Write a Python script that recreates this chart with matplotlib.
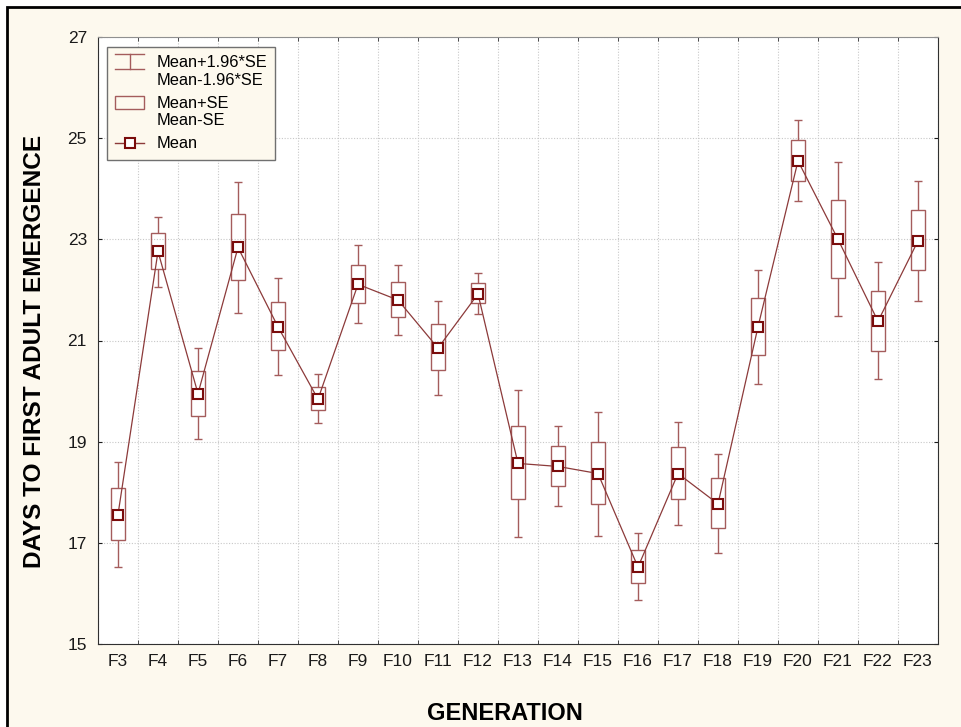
import numpy as np
import matplotlib.pyplot as plt
from matplotlib.patches import Rectangle
from matplotlib.lines import Line2D
from matplotlib.legend_handler import HandlerBase

plt.rcParams['font.family'] = ['Liberation Sans', 'DejaVu Sans']

# dados
geracoes = ['F3', 'F4', 'F5', 'F6', 'F7', 'F8', 'F9', 'F10', 'F11', 'F12', 'F13',
            'F14', 'F15', 'F16', 'F17', 'F18', 'F19', 'F20', 'F21', 'F22', 'F23']
media = [17.56, 22.76, 19.95, 22.84, 21.27, 19.84, 22.11, 21.80, 20.85, 21.92, 18.57,
         18.51, 18.37, 16.52, 18.37, 17.77, 21.27, 24.55, 23.00, 21.38, 22.97]
se_sup = [18.09, 23.12, 20.39, 23.50, 21.76, 20.09, 22.49, 22.15, 21.33, 22.13, 19.31,
          18.92, 19.00, 16.86, 18.89, 18.28, 21.85, 24.97, 23.77, 21.98, 23.58]
se_inf = [17.06, 22.41, 19.51, 22.20, 20.81, 19.62, 21.74, 21.47, 20.41, 21.74, 17.86,
          18.13, 17.77, 16.21, 17.86, 17.29, 20.72, 24.16, 22.24, 20.80, 22.40]
ic_sup = [18.60, 23.45, 20.85, 24.14, 22.23, 20.34, 22.88, 22.49, 21.78, 22.34, 20.03,
          19.30, 19.58, 17.19, 19.39, 18.75, 22.40, 25.36, 24.52, 22.55, 24.16]
ic_inf = [16.53, 22.05, 19.05, 21.55, 20.32, 19.36, 21.34, 21.11, 19.92, 21.53, 17.12,
          17.73, 17.14, 15.87, 17.35, 16.79, 20.14, 23.75, 21.49, 20.23, 21.79]
yticks = [15, 17, 19, 21, 23, 25, 27]

cor_linha = '#8c3a3a'
cor_caixa = '#a45c5c'
cor_marca = '#7a0c0c'
fundo = '#fdf9ee'


class HandlerBigode(HandlerBase):
    # simbolo do intervalo 1.96*SE, alinhado com a primeira linha do texto
    def create_artists(self, legend, orig, xd, yd, w, h, fontsize, trans):
        yc = h / 2 - yd + 0.6 * fontsize
        meia = 0.45 * fontsize
        a = Line2D([-xd, -xd + w], [yc + meia, yc + meia], color=cor_caixa, lw=1, transform=trans)
        b = Line2D([-xd, -xd + w], [yc - meia, yc - meia], color=cor_caixa, lw=1, transform=trans)
        c = Line2D([-xd + w / 2, -xd + w / 2], [yc - meia, yc + meia], color=cor_caixa, lw=1, transform=trans)
        return [a, b, c]


class HandlerCaixa(HandlerBase):
    def create_artists(self, legend, orig, xd, yd, w, h, fontsize, trans):
        yc = h / 2 - yd + 0.6 * fontsize
        meia = 0.4 * fontsize
        r = Rectangle((-xd, yc - meia), w, 2 * meia, fill=False, edgecolor=cor_caixa, lw=1, transform=trans)
        return [r]


class HandlerMedia(HandlerBase):
    def create_artists(self, legend, orig, xd, yd, w, h, fontsize, trans):
        yc = h / 2 - yd
        l = Line2D([-xd, -xd + w], [yc, yc], color=cor_linha, lw=1, transform=trans)
        m = Line2D([-xd + w / 2], [yc], marker='s', ms=6.5, mfc='white', mec=cor_marca,
                   mew=1.5, color=cor_linha, transform=trans)
        return [l, m]


fig = plt.figure(figsize=(9.62, 7.27), dpi=100)
fig.patch.set_facecolor('white')
fig.patches.append(Rectangle((7 / 962, -0.05), 1.2, 1.05 - 7 / 727, transform=fig.transFigure,
                             facecolor=fundo, edgecolor='black', lw=2, zorder=-10))

ax = fig.add_axes([98 / 962, 83 / 727, 840 / 962, 607 / 727])
x = np.arange(len(geracoes))
media = np.array(media)
se_sup = np.array(se_sup); se_inf = np.array(se_inf)
ic_sup = np.array(ic_sup); ic_inf = np.array(ic_inf)

# caixas (Mean +- SE)
ax.bar(x, se_sup - se_inf, bottom=se_inf, width=0.37, fill=False,
       edgecolor=cor_caixa, lw=1, zorder=3)
# bigodes (Mean +- 1.96*SE)
ax.vlines(x, se_sup, ic_sup, color=cor_caixa, lw=1, zorder=3)
ax.vlines(x, ic_inf, se_inf, color=cor_caixa, lw=1, zorder=3)
ax.hlines(ic_sup, x - 0.11, x + 0.11, color=cor_caixa, lw=1, zorder=3)
ax.hlines(ic_inf, x - 0.11, x + 0.11, color=cor_caixa, lw=1, zorder=3)
# media
ax.plot(x, media, color=cor_linha, lw=0.9, marker='s', ms=6.5, mfc='white',
        mec=cor_marca, mew=1.5, zorder=5)

ax.set_xlim(-0.5, len(geracoes) - 0.5)
ax.set_ylim(15, 27)
ax.set_yticks(yticks)
ax.set_xticks(x)
ax.set_xticklabels(geracoes)
ax.set_xticks(np.arange(len(geracoes) + 1) - 0.5, minor=True)
ax.tick_params(axis='x', which='major', length=0, pad=7, labelsize=12.5, colors='#1a1a1a')
ax.tick_params(axis='x', which='minor', direction='in', length=3, top=True, bottom=True, color='#303030')
ax.tick_params(axis='y', which='major', direction='in', length=3, left=True, right=True,
               pad=8, labelsize=12.5, colors='#1a1a1a')
ax.grid(True, axis='x', which='minor', color='#c8c8c8', lw=0.8, ls=(0, (1, 1.5)))
ax.grid(True, axis='y', which='major', color='#c8c8c8', lw=0.8, ls=(0, (1, 1.5)))
ax.set_axisbelow(True)
for lado in ['left', 'bottom', 'right']:
    ax.spines[lado].set_color('#303030')
ax.spines['top'].set_color('#909090')

ax.set_xlabel('GENERATION', fontsize=17, fontweight='bold', ha='center', va='center')
ax.xaxis.set_label_coords((505 - 98) / 840, (644 - 713) / 607)
ax.set_ylabel('DAYS TO FIRST ADULT EMERGENCE', fontsize=17.6, fontweight='bold', ha='center', va='center')
ax.yaxis.set_label_coords((34.5 - 98) / 840, (644 - 351) / 607)

h1 = Line2D([], [])
h2 = Rectangle((0, 0), 1, 1)
h3 = Line2D([], [], marker='s')
leg = ax.legend([h1, h2, h3], ['Mean+1.96*SE\nMean-1.96*SE', 'Mean+SE\nMean-SE', 'Mean'],
                handler_map={h1: HandlerBigode(), h2: HandlerCaixa(), h3: HandlerMedia()},
                loc='upper left', bbox_to_anchor=((107 - 98) / 840, 1 - 10 / 607),
                borderaxespad=0, fontsize=11.8, fancybox=False, framealpha=1,
                facecolor=fundo, edgecolor='#707070', borderpad=0.5,
                handlelength=1.75, handletextpad=0.75, labelspacing=0.5)
leg.get_frame().set_linewidth(1)

fig.savefig('out.png', dpi=100)
